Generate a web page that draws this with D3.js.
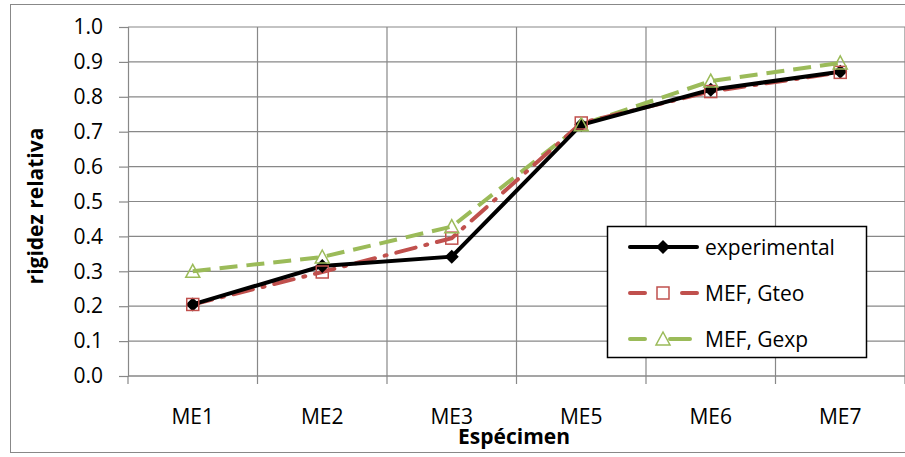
<!DOCTYPE html>
<html><head><meta charset="utf-8">
<script src="https://cdn.jsdelivr.net/npm/d3@7"></script>
<style>body{margin:0;background:#fff}svg{display:block}text{font-family:"Open Sans",Lato,sans-serif}</style>
</head><body>
<svg id="c" width="905" height="457"></svg>
<script>
const categories = ["ME1","ME2","ME3","ME5","ME6","ME7"];
const experimental = [0.205, 0.315, 0.342, 0.72, 0.82, 0.872];
const gteo = [0.205, 0.298, 0.395, 0.725, 0.815, 0.87];
const gexp = [0.30, 0.341, 0.428, 0.72, 0.845, 0.897];
const yTicks = [0,0.1,0.2,0.3,0.4,0.5,0.6,0.7,0.8,0.9,1.0];
const seriesNames = ["experimental","MEF, Gteo","MEF, Gexp"];

const FONT = "'Open Sans', Lato, sans-serif";
const svg = d3.select("#c");
const L=128, R=905, T=27, B=376;
const x = d3.scaleBand().domain(categories).range([L,R]);
const y = d3.scaleLinear().domain([0,1]).range([B,T]);

// outer border
svg.append("rect").attr("x",10.5).attr("y",4.5).attr("width",905).attr("height",448).attr("fill","none").attr("stroke","#888").attr("stroke-width",1);

// gridlines
svg.append("g").selectAll("line").data(yTicks).join("line")
  .attr("x1",L).attr("x2",R).attr("y1",d=>y(d)).attr("y2",d=>y(d))
  .attr("stroke","#888").attr("stroke-width",1.2);
svg.append("g").selectAll("line").data(categories).join("line")
  .attr("x1",d=>x(d)+x.bandwidth()).attr("x2",d=>x(d)+x.bandwidth())
  .attr("y1",T).attr("y2",B).attr("stroke","#888").attr("stroke-width",1.2);

// axes
const ya = svg.append("g").attr("transform",`translate(${L},0)`)
  .call(d3.axisLeft(y).tickValues(yTicks).tickFormat(d3.format(".1f")).tickSize(9).tickPadding(16));
const xa = svg.append("g").attr("transform",`translate(0,${B})`)
  .call(d3.axisBottom(x).tickSize(0).tickPadding(33));
[ya,xa].forEach(a=>{a.selectAll("path,line").attr("stroke","#888").attr("stroke-width",1.2);
  a.selectAll("text").attr("font-size",21).attr("fill","#000").attr("font-family",FONT);});
xa.select(".domain").attr("d",`M${L},0H${R}`);
// x ticks at boundaries
svg.append("g").selectAll("line").data([categories[0]].concat(categories)).join("line")
  .attr("x1",(d,i)=>i===0?L:x(d)+x.bandwidth()).attr("x2",(d,i)=>i===0?L:x(d)+x.bandwidth())
  .attr("y1",B).attr("y2",B+8).attr("stroke","#888").attr("stroke-width",1.2);

// titles
svg.append("text").attr("transform","translate(43,206) rotate(-90)").attr("text-anchor","middle")
  .attr("font-weight","bold").attr("font-size",21).attr("font-family",FONT).text("rigidez relativa");
svg.append("text").attr("x",514).attr("y",444).attr("text-anchor","middle")
  .attr("font-weight","bold").attr("font-size",21).attr("font-family",FONT).text("Espécimen");

const cx = d=>x(d)+x.bandwidth()/2;
const line = d3.line().x((d,i)=>cx(categories[i])).y(d=>y(d));

const red="#C0504D", green="#9BBB59";
// Gexp
svg.append("path").datum(gexp).attr("d",line).attr("fill","none").attr("stroke",green).attr("stroke-width",4).attr("stroke-dasharray","18,9");
// Gteo
svg.append("path").datum(gteo).attr("d",line).attr("fill","none").attr("stroke",red).attr("stroke-width",4).attr("stroke-dasharray","20,10,2,10").attr("stroke-linecap","round");
// experimental
svg.append("path").datum(experimental).attr("d",line).attr("fill","none").attr("stroke","#000").attr("stroke-width",4);

function diamond(g,px,py){g.append("path").attr("d",`M${px},${py-7}L${px+7},${py}L${px},${py+7}L${px-7},${py}Z`).attr("fill","#000");}
function square(g,px,py){g.append("rect").attr("x",px-6).attr("y",py-6).attr("width",12).attr("height",12).attr("fill","none").attr("stroke",red).attr("stroke-width",1.5);}
function tri(g,px,py){g.append("path").attr("d",`M${px},${py-7}L${px+7},${py+6}L${px-7},${py+6}Z`).attr("fill","none").attr("stroke",green).attr("stroke-width",1.5);}

const mk = svg.append("g");
experimental.forEach((v,i)=>diamond(mk,cx(categories[i]),y(v)));
gteo.forEach((v,i)=>square(mk,cx(categories[i]),y(v)));
gexp.forEach((v,i)=>tri(mk,cx(categories[i]),y(v)));

// legend
const lg = svg.append("g");
lg.append("rect").attr("x",607.5).attr("y",226.5).attr("width",259).attr("height",131).attr("fill","#fff").attr("stroke","#000").attr("stroke-width",1.5);
const ly=[247,293,339];
const styles=[{c:"#000"},{c:red},{c:green}];
seriesNames.forEach((n,i)=>{
  const l=lg.append("line").attr("x1",630).attr("x2",697).attr("y1",ly[i]).attr("y2",ly[i]).attr("stroke",styles[i].c).attr("stroke-width",4).attr("stroke-linecap","round");
  if(i===1) l.attr("stroke-dasharray","15,37");
  if(i===2) l.attr("stroke-dasharray","15,25,20");
  if(i===0) diamond(lg,663,ly[i]); else if(i===1) square(lg,663,ly[i]); else tri(lg,663,ly[i]);
  lg.append("text").attr("x",705).attr("y",ly[i]+8).attr("font-size",21).attr("font-family",FONT).text(n);
});
</script>
</body></html>
